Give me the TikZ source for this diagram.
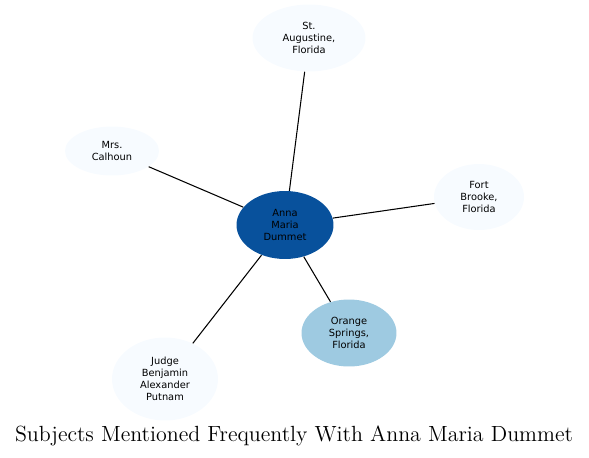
\documentclass[tikz,border=0pt]{standalone}
\usepackage{fontspec}
\setsansfont{DejaVu Sans}
\usetikzlibrary{shapes.geometric}
\definecolor{HubBlue}{HTML}{08519C}
\definecolor{PaleBlue}{HTML}{F7FBFF}
\definecolor{MidBlue}{HTML}{9ECAE1}

\tikzset{
  subject/.style={ellipse, draw=none, inner sep=0pt, align=center,
    font=\sffamily\fontsize{5.6}{6.9}\selectfont, text=black},
  link/.style={draw=black, line width=0.6pt}
}

\begin{document}
\begin{tikzpicture}[x=0.02cm, y=-0.02cm]
  \useasboundingbox (0,0) rectangle (589,457);
  % people and places
  \node[subject, fill=HubBlue, minimum width=1.94cm, minimum height=1.36cm]
    (anna) at (285,225) {Anna\\Maria\\Dummet};
  \node[subject, fill=PaleBlue, minimum width=2.26cm, minimum height=1.34cm]
    (augustine) at (309,38) {St.\\Augustine,\\Florida};
  \node[subject, fill=PaleBlue, minimum width=1.88cm, minimum height=0.98cm]
    (calhoun) at (112,151) {Mrs.\\Calhoun};
  \node[subject, fill=PaleBlue, minimum width=1.8cm, minimum height=1.32cm]
    (brooke) at (479,197) {Fort\\Brooke,\\Florida};
  \node[subject, fill=MidBlue, minimum width=1.9cm, minimum height=1.34cm]
    (orange) at (349,333) {Orange\\Springs,\\Florida};
  \node[subject, fill=PaleBlue, minimum width=2.12cm, minimum height=1.66cm]
    (putnam) at (165,379) {Judge\\Benjamin\\Alexander\\Putnam};
  % links
  \foreach \other in {augustine, calhoun, brooke, orange, putnam}
    \draw[link] (anna) -- (\other);
  \node[font=\fontsize{12.5}{14}\selectfont] (title) at (294,436)
    {Subjects Mentioned Frequently With Anna Maria Dummet};
\end{tikzpicture}
\end{document}
